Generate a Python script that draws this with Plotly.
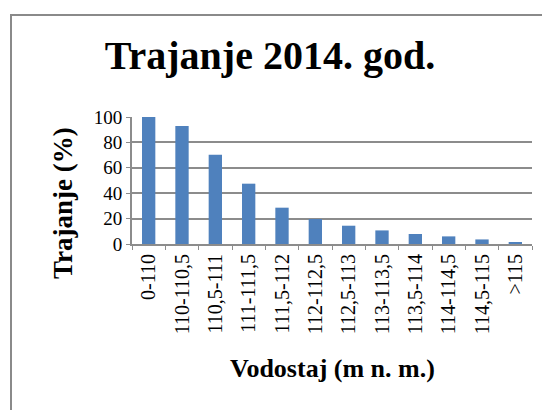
import plotly.graph_objects as go

categories = ["0-110", "110-110,5", "110,5-111", "111-111,5", "111,5-112", "112-112,5",
              "112,5-113", "113-113,5", "113,5-114", "114-114,5", "114,5-115", ">115"]
trajanje = [100, 93, 70.3, 47.5, 28.6, 19.7, 14.4, 10.7, 7.9, 6.0, 3.6, 1.5]
y_ticks = [0, 20, 40, 60, 80, 100]

OFF = 8  # default page body margin
W, H = 550 - OFF, 410 - OFF
L, R, T, B = 132 - OFF, 18, 117 - OFF, 166
pw, ph = W - L - R, H - T - B

def px(x):
    return (x - OFF - L) / pw

def py(y):
    return (H - B - (y - OFF)) / ph

FONT = "Liberation Serif"
GRID = "#8c8c8c"

fig = go.Figure(go.Bar(x=categories, y=trajanje, marker=dict(color="#4F81BD", line=dict(width=0))))

fig.update_layout(
    width=W, height=H,
    margin=dict(l=L, r=R, t=T, b=B, autoexpand=False),
    paper_bgcolor="white", plot_bgcolor="white",
    bargap=0.6,
    showlegend=False,
    font=dict(family=FONT, color="black"),
    title=dict(text="<b>Trajanje 2014. god.</b>", font=dict(size=40, family=FONT, color="black"),
               xref="container", x=(270 - OFF) / W, xanchor="center",
               yref="container", y=1 - (55 - OFF) / H, yanchor="middle"),
)
fig.update_xaxes(
    type="category", tickangle=-90, tickfont=dict(size=20, family=FONT, color="black"),
    showline=True, linecolor=GRID, linewidth=2, showgrid=False,
    ticks="outside", ticklen=4, tickcolor=GRID, tickson="boundaries",
)
fig.update_yaxes(
    range=[0, 100], tickvals=y_ticks, tickfont=dict(size=19, family=FONT, color="black"),
    showline=True, linecolor=GRID, linewidth=2, showgrid=True, gridcolor=GRID, gridwidth=2,
    ticks="outside", ticklen=4, tickcolor=GRID, zeroline=False,
)

fig.add_annotation(text="<b>Vodostaj (m n. m.)</b>", xref="paper", yref="paper",
                   x=px(332), y=py(368), xanchor="center", yanchor="middle", showarrow=False,
                   font=dict(size=26, family=FONT, color="black"))
fig.add_annotation(text="<b>Trajanje (%)</b>", xref="paper", yref="paper", textangle=-90,
                   x=px(63), y=py(203), xanchor="center", yanchor="middle", showarrow=False,
                   font=dict(size=27, family=FONT, color="black"))

fig.add_shape(type="rect", xref="paper", yref="paper",
              x0=px(11), y0=py(430), x1=px(570), y1=py(15),
              line=dict(color="#8a8a8a", width=2), layer="below")

fig.write_html("out.html")
